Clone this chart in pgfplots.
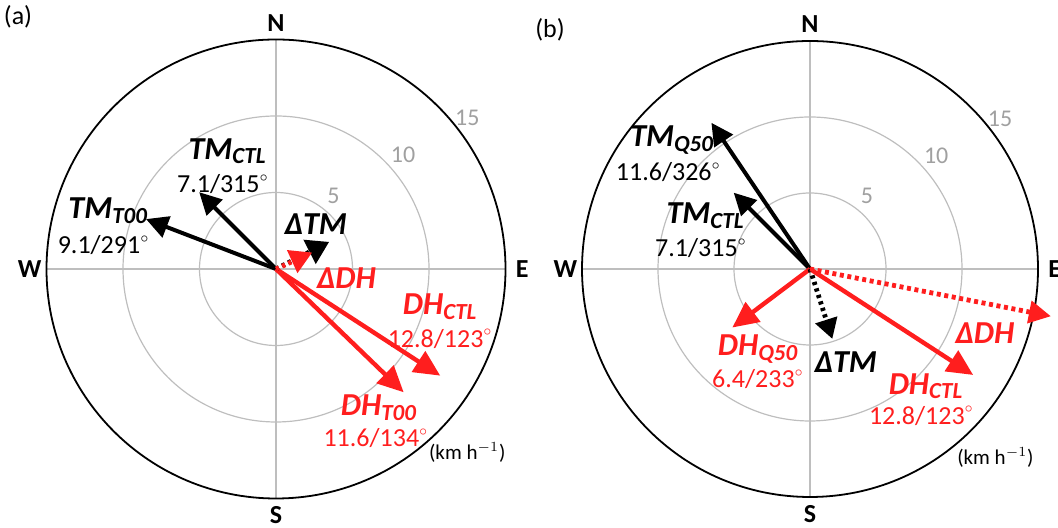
\documentclass[border=0pt]{standalone}
\usepackage{pgfplots}
\pgfplotsset{compat=1.18}
\usepackage{pgfplotstable}
\usepackage{fontspec}
\setmainfont{Carlito}
\usetikzlibrary{arrows.meta}

\definecolor{vred}{RGB}{255,30,30}
\definecolor{ringgray}{RGB}{190,190,190}
\definecolor{labgray}{RGB}{160,160,160}

% vectors: r (km/h), dir (degrees, clockwise from north)
\pgfplotstableread{
r dir
0 0
7.1 315
}\tmctl
\pgfplotstableread{
r dir
0 0
9.1 291
}\tmtoo
\pgfplotstableread{
r dir
0 0
12.8 123
}\dhctl
\pgfplotstableread{
r dir
0 0
11.6 134
}\dhtoo
\pgfplotstableread{
r dir
0 0
3.9 63
}\dtmA
\pgfplotstableread{
r dir
0 0
2.6 65.5
}\ddhA
\pgfplotstableread{
r dir
0 0
11.6 326
}\tmqfifty
\pgfplotstableread{
r dir
0 0
6.4 233
}\dhqfifty
\pgfplotstableread{
r dir
0 0
4.83 162.3
}\dtmB
\pgfplotstableread{
r dir
0 0
16.15 101.1
}\ddhB

\pgfplotsset{
  compass/.style={hide axis, clip=false, anchor=origin,
    xmin=-16, xmax=16, ymin=-16, ymax=16},
  blackvec/.style={black, line width=2pt, -{Triangle[length=11pt,width=11pt]}},
  redvec/.style={vred, line width=2.2pt, -{Triangle[length=13pt,width=12pt]}},
  blackdot/.style={black, line width=2.4pt, dash pattern=on 1.6pt off 1.8pt, -{Triangle[length=10pt,width=11pt]}},
  reddot/.style={vred, line width=2.4pt, dash pattern=on 2pt off 1.8pt, -{Triangle[length=11pt,width=11pt]}},
  bigdeltablack/.style={black, line width=2.4pt, dash pattern=on 1.6pt off 1.8pt, -{Triangle[length=11pt,width=13pt]}},
  bigdeltared/.style={vred, line width=2.4pt, dash pattern=on 1.6pt off 1.8pt, -{Triangle[length=11pt,width=12pt]}},
}
\newcommand{\vlab}[2]{{\fontsize{16}{16}\selectfont\bfseries\itshape #1\raisebox{-0.3ex}[0pt][0pt]{\fontsize{11.5}{11.5}\selectfont #2}}}
\newcommand{\dlab}[1]{{\fontsize{16}{16}\selectfont\bfseries\itshape #1}}
\newcommand{\num}[1]{{\fontsize{13}{13}\selectfont #1\raisebox{0.9ex}[0pt][0pt]{\fontsize{7}{7}\selectfont$\circ$}}}
\tikzset{ring/.style={ringgray, line width=0.6pt},
  compassl/.style={font=\fontsize{13}{13}\selectfont\bfseries},
  ringl/.style={labgray, font=\fontsize{12}{12}\selectfont}}

\newcommand{\rings}{%
  \draw[ring] (axis cs:0,0) circle[radius=5];
  \draw[ring] (axis cs:0,0) circle[radius=10];
  \draw[ring] (axis cs:-15,0) -- (axis cs:15,0);
  \draw[ring] (axis cs:0,-15) -- (axis cs:0,15);
  \draw[black, line width=0.9pt] (axis cs:0,0) circle[radius=15];
  \node[compassl] at (axis cs:0,16.1) {N};
  \node[compassl] at (axis cs:0,-16.1) {S};
  \node[compassl] at (axis cs:-16.1,0) {W};
  \node[compassl] at (axis cs:16.1,0) {E};
  \node[ringl] at (axis cs:3.75,4.8) {5};
  \node[ringl] at (axis cs:8.3,7.45) {10};
  \node[ringl] at (axis cs:12.5,9.9) {15};
}
\newcommand{\vplot}[2]{\addplot[#1] table[x expr={\thisrow{r}*sin(\thisrow{dir})}, y expr={\thisrow{r}*cos(\thisrow{dir})}] {#2};}

\begin{document}
\begin{tikzpicture}
\useasboundingbox (0pt,0pt) rectangle (529pt,264pt);
\node[font=\fontsize{13}{13}\selectfont] at (9pt,255.5pt) {(a)};
\node[font=\fontsize{13}{13}\selectfont] at (275pt,249pt) {(b)};

\begin{axis}[compass, x=7.65pt, y=7.65pt, at={(138pt,129.5pt)}]
\rings
\vplot{blackvec}{\tmtoo}
\vplot{blackvec}{\tmctl}
\vplot{redvec}{\dhtoo}
\vplot{redvec}{\dhctl}
\vplot{bigdeltablack}{\dtmA}
\vplot{bigdeltared}{\ddhA}
\node at (axis cs:-3.2,7.85) {\vlab{TM}{CTL}};
\node at (axis cs:-3.5,5.55) {\num{7.1/315}};
\node at (axis cs:-11.0,3.95) {\vlab{TM}{T00}};
\node at (axis cs:-11.3,1.55) {\num{9.1/291}};
\node at (axis cs:2.6,2.9) {\dlab{ΔTM}};
\node[vred] at (axis cs:4.6,-0.6) {\dlab{ΔDH}};
\node[vred] at (axis cs:10.7,-2.3) {\vlab{DH}{CTL}};
\node[vred] at (axis cs:10.7,-4.55) {\num{12.8/123}};
\node[vred] at (axis cs:6.7,-8.9) {\vlab{DH}{T00}};
\node[vred] at (axis cs:6.5,-11.05) {\num{11.6/134}};
\node[font=\fontsize{10.5}{10.5}\selectfont] at (axis cs:12.5,-12.0) {(km h$^{-1}$)};
\end{axis}

\begin{axis}[compass, x=7.6pt, y=7.6pt, at={(405pt,129.5pt)}]
\rings
\vplot{blackvec}{\tmqfifty}
\vplot{blackvec}{\tmctl}
\vplot{redvec}{\dhqfifty}
\vplot{redvec}{\dhctl}
\vplot{blackdot}{\dtmB}
\vplot{reddot}{\ddhB}
\node at (axis cs:-9.1,8.75) {\vlab{TM}{Q50}};
\node at (axis cs:-9.35,6.35) {\num{11.6/326}};
\node at (axis cs:-6.9,3.65) {\vlab{TM}{CTL}};
\node at (axis cs:-7.2,1.35) {\num{7.1/315}};
\node[vred] at (axis cs:-3.45,-5.0) {\vlab{DH}{Q50}};
\node[vred] at (axis cs:-3.45,-7.25) {\num{6.4/233}};
\node at (axis cs:2.35,-6.1) {\dlab{ΔTM}};
\node[vred] at (axis cs:7.6,-7.55) {\vlab{DH}{CTL}};
\node[vred] at (axis cs:7.3,-9.65) {\num{12.8/123}};
\node[vred] at (axis cs:11.5,-4.2) {\dlab{ΔDH}};
\node[font=\fontsize{10.5}{10.5}\selectfont] at (axis cs:12.2,-12.4) {(km h$^{-1}$)};
\end{axis}
\end{tikzpicture}
\end{document}
